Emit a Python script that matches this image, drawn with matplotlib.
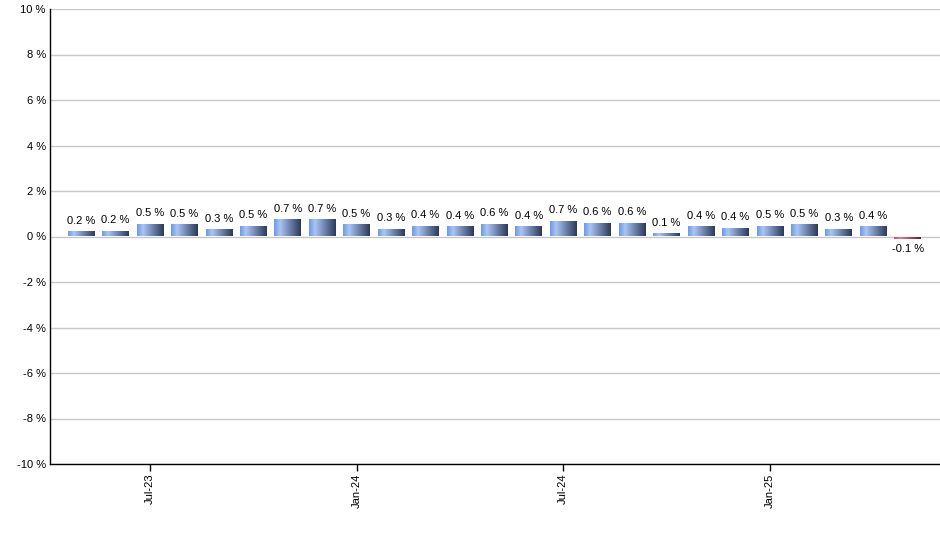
import numpy as np
import matplotlib
matplotlib.use("Agg")
import matplotlib.pyplot as plt
from matplotlib.colors import LinearSegmentedColormap

plt.rcParams['font.family'] = ['Liberation Sans', 'DejaVu Sans']

# monthly change, May-23 .. May-25
months = ['May-23', 'Jun-23', 'Jul-23', 'Aug-23', 'Sep-23', 'Oct-23', 'Nov-23', 'Dec-23',
          'Jan-24', 'Feb-24', 'Mar-24', 'Apr-24', 'May-24', 'Jun-24', 'Jul-24', 'Aug-24',
          'Sep-24', 'Oct-24', 'Nov-24', 'Dec-24', 'Jan-25', 'Feb-25', 'Mar-25', 'Apr-25', 'May-25']
values = [0.22, 0.26, 0.57, 0.53, 0.31, 0.48, 0.75, 0.75, 0.53, 0.35, 0.48, 0.44, 0.57,
          0.44, 0.70, 0.61, 0.61, 0.14, 0.44, 0.39, 0.48, 0.53, 0.35, 0.44, -0.1]
labels = ['0.2 %', '0.2 %', '0.5 %', '0.5 %', '0.3 %', '0.5 %', '0.7 %', '0.7 %', '0.5 %',
          '0.3 %', '0.4 %', '0.4 %', '0.6 %', '0.4 %', '0.7 %', '0.6 %', '0.6 %', '0.1 %',
          '0.4 %', '0.4 %', '0.5 %', '0.5 %', '0.3 %', '0.4 %', '-0.1 %']
tick_months = ['Jul-23', 'Jan-24', 'Jul-24', 'Jan-25']

blue = LinearSegmentedColormap.from_list('b', [(0, '#7298dc'), (0.22, '#a9c5f7'), (1, '#2b3a5c')])
red = LinearSegmentedColormap.from_list('r', [(0, '#c84a68'), (0.22, '#e27e96'), (1, '#6b1a2c')])
grad = np.linspace(0, 1, 64).reshape(1, -1)

fig = plt.figure(figsize=(9.4, 5.5), dpi=100)
ax = fig.add_axes([50 / 940, 86 / 550, 890 / 940, 455 / 550])

x = np.arange(len(values))
bars = ax.bar(x, values, width=0.77, facecolor='none', edgecolor='none', zorder=3)
for b, v in zip(bars, values):
    x0, w = b.get_x(), b.get_width()
    y0, h = b.get_y(), b.get_height()
    im = ax.imshow(grad, cmap=blue if v >= 0 else red, aspect='auto',
                   extent=(x0, x0 + w, min(y0, y0 + h), max(y0, y0 + h)),
                   zorder=3, interpolation='bilinear')
    im.set_clip_path(b)

for xi, v, lab in zip(x, values, labels):
    if v >= 0:
        ax.annotate(lab, (xi, v), xytext=(0, 4), textcoords='offset points',
                    ha='center', va='bottom', fontsize=8)
    else:
        ax.annotate(lab, (xi, v), xytext=(0, -4), textcoords='offset points',
                    ha='center', va='top', fontsize=8)

ax.set_xlim(-0.9, 24.94)
ax.set_ylim(-10, 10)
ax.set_yticks(range(-10, 11, 2))
ax.set_yticklabels([f'{t} %' for t in range(-10, 11, 2)], fontsize=8)
ax.set_xticks([months.index(m) for m in tick_months])
ax.set_xticklabels(tick_months, rotation=90, fontsize=8)
ax.tick_params(axis='y', length=0, pad=3)
ax.tick_params(axis='x', length=5, direction='out', width=1, pad=2)
ax.yaxis.grid(True, color='#c8c8c8', linewidth=1)
ax.set_axisbelow(True)
for s in ['top', 'right']:
    ax.spines[s].set_visible(False)
for s in ['left', 'bottom']:
    ax.spines[s].set_color('black')
    ax.spines[s].set_linewidth(1)

fig.savefig('out.png', dpi=100)
